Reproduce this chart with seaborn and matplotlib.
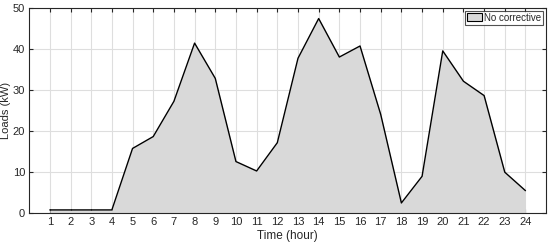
import matplotlib
matplotlib.use("Agg")
import matplotlib.pyplot as plt
import seaborn as sns
import pandas as pd
from matplotlib.patches import Patch

hours = list(range(1, 25))
loads = [0.7, 0.7, 0.7, 0.7, 15.7, 18.6, 27.2, 41.4, 32.8, 12.5, 10.2, 17.1,
         37.7, 47.4, 38.0, 40.7, 24.0, 2.4, 8.9, 39.5, 32.1, 28.6, 9.9, 5.4]
y_ticks = [0, 10, 20, 30, 40, 50]
series_label = "No corrective"

df = pd.DataFrame({"hour": hours, "load": loads})

sns.set_theme(style="white")
plt.rcParams["font.family"] = ["Liberation Sans", "DejaVu Sans"]

fig = plt.figure(figsize=(5.5, 2.46), dpi=100)
ax = fig.add_axes([0.053, 0.135, 0.940, 0.833])

ax.fill_between(df["hour"], df["load"], 0, color="#d9d9d9", linewidth=0, zorder=2)
sns.lineplot(data=df, x="hour", y="load", ax=ax, color="black", linewidth=1.0, zorder=3)

ax.set_xlim(0, 25)
ax.set_ylim(0, 50)
ax.set_xticks(hours)
ax.set_yticks(y_ticks)
ax.grid(True, color="#dedede", linewidth=0.8, zorder=0)
ax.set_axisbelow(True)
ax.tick_params(axis="both", direction="in", length=3, width=0.8, labelsize=8,
               colors="#262626", top=True, right=True, bottom=True, left=True, pad=3)
for s in ax.spines.values():
    s.set_color("#262626")
    s.set_linewidth(0.8)
ax.set_xlabel("Time (hour)", fontsize=8.5, color="#262626", labelpad=2)
ax.set_ylabel("Loads (kW)", fontsize=8, color="#262626", labelpad=1)

handle = Patch(facecolor="#d9d9d9", edgecolor="black", linewidth=0.8)
leg = ax.legend([handle], [series_label], loc="upper right", fontsize=7,
                frameon=True, fancybox=False, edgecolor="#262626",
                borderpad=0.2, handlelength=1.6, handleheight=0.9,
                handletextpad=0.2, borderaxespad=0.3)
leg.get_frame().set_linewidth(0.8)

fig.savefig("out.png", dpi=100)
